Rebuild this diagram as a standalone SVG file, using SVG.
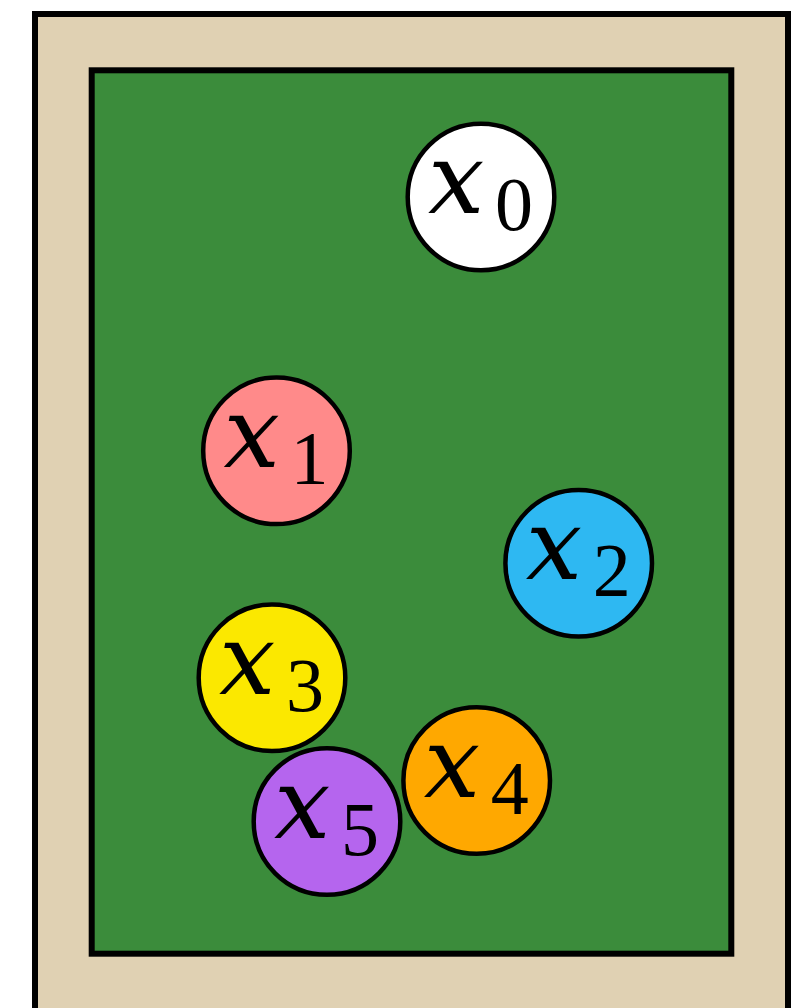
<svg xmlns="http://www.w3.org/2000/svg" width="792" height="1008" viewBox="0 0 792 1008">
<style>
.node circle{stroke:#000;stroke-width:4.5}
.v{font-family:"DejaVu Serif",serif;font-style:italic;font-size:100px;fill:#000}
.s{font-family:"Liberation Serif",serif;font-size:76px;fill:#000}
</style>
<rect width="792" height="1008" fill="#fff"/>
<rect x="35" y="14" width="753" height="1010" fill="#E0D1B3" stroke="#000" stroke-width="6"/>
<rect x="91.7" y="70.3" width="639.6" height="883.4" fill="#3B8C3B" stroke="#000" stroke-width="6"/>
<g id="connectors"></g>
<g id="x0" class="node"><circle cx="481" cy="197" r="73.3" fill="#FFFFFF"/><text class="v" x="428" y="213">x</text><text class="s" x="495" y="230">0</text></g>
<g id="x1" class="node"><circle cx="276.5" cy="450.8" r="73.3" fill="#FF8A8A"/><text class="v" x="223.5" y="466.8">x</text><text class="s" x="290.5" y="483.8">1</text></g>
<g id="x2" class="node"><circle cx="578.7" cy="563.3" r="73.3" fill="#2EB8F2"/><text class="v" x="525.7" y="579.3">x</text><text class="s" x="592.7" y="596.3">2</text></g>
<g id="x3" class="node"><circle cx="272" cy="677.8" r="73.3" fill="#FBE800"/><text class="v" x="219" y="693.8">x</text><text class="s" x="286" y="710.8">3</text></g>
<g id="x4" class="node"><circle cx="476.7" cy="780.5" r="73.3" fill="#FFA800"/><text class="v" x="423.7" y="796.5">x</text><text class="s" x="490.7" y="813.5">4</text></g>
<g id="x5" class="node"><circle cx="327" cy="821.5" r="73.3" fill="#B565EE"/><text class="v" x="274" y="837.5">x</text><text class="s" x="341" y="854.5">5</text></g>
</svg>
